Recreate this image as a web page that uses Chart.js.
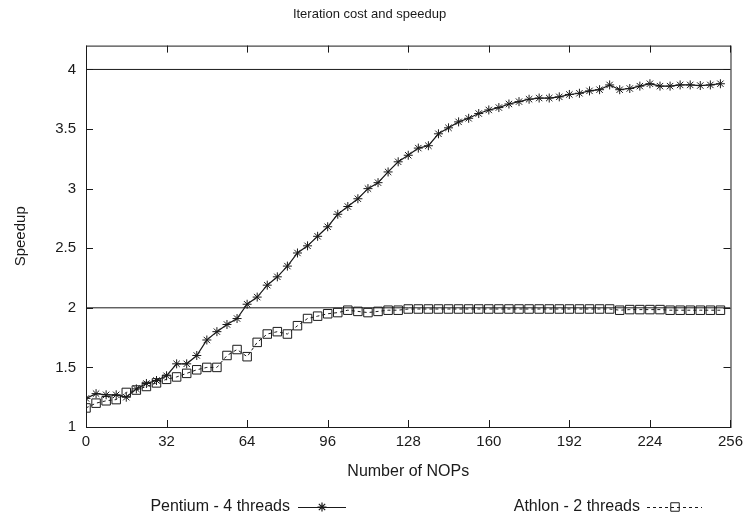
<!DOCTYPE html>
<html>
<head>
<meta charset="utf-8">
<script src="https://cdn.jsdelivr.net/npm/chart.js@4.4.1/dist/chart.umd.min.js"></script>
<style>
    html, body { margin: 0; padding: 0; background: #ffffff; }
    #wrap { width: 749px; height: 521px; }
</style>
</head>
<body>
<div id="wrap"><canvas id="speedupGraph" width="749" height="521"></canvas></div>
<script>
var nops = [];
for (var n = 0; n <= 252; n += 4) {
    nops.push(n);
}
var pentiumSpeedup = [
    1.24, 1.28, 1.27, 1.27, 1.25, 1.32, 1.365, 1.39, 1.43, 1.53, 1.53, 1.60,
    1.73, 1.80, 1.86, 1.91, 2.03, 2.09, 2.19, 2.26, 2.35, 2.46, 2.52,
    2.60, 2.68, 2.785, 2.85, 2.915, 3.00, 3.05, 3.14, 3.225, 3.28, 3.34,
    3.36, 3.46, 3.51, 3.56, 3.59, 3.63, 3.66, 3.68, 3.71, 3.73, 3.75,
    3.76, 3.76, 3.77, 3.79, 3.80, 3.82, 3.83, 3.87, 3.83, 3.84, 3.86, 3.88,
    3.86, 3.86, 3.87, 3.87, 3.865, 3.87, 3.88
];
var athlonSpeedup = [
    1.16, 1.20, 1.22, 1.23, 1.29, 1.31, 1.34, 1.37, 1.40, 1.42, 1.45, 1.48,
    1.50, 1.50, 1.60, 1.65, 1.59, 1.71, 1.78, 1.80, 1.78, 1.85, 1.91,
    1.93, 1.95, 1.96, 1.98, 1.97, 1.96, 1.97, 1.98, 1.98, 1.99, 1.99,
    1.99, 1.99, 1.99, 1.99, 1.99, 1.99, 1.99, 1.99, 1.99, 1.99, 1.99,
    1.99, 1.99, 1.99, 1.99, 1.99, 1.99, 1.99, 1.99, 1.98, 1.985, 1.985, 1.985,
    1.985, 1.98, 1.98, 1.98, 1.98, 1.98, 1.98
];
var limitLines = [4, 2];
var xTicks = [0, 32, 64, 96, 128, 160, 192, 224, 256];
var yTicks = [1, 1.5, 2, 2.5, 3, 3.5, 4];
var seriesNames = ["Pentium - 4 threads", "Athlon - 2 threads"];

var fontFamily = "'Liberation Sans', Arial, sans-serif";
var ink = "#1a1a1a";

function to_points(xs, ys) {
    var pts = [];
    for (var i = 0; i < ys.length; i++) {
        pts.push({ x: xs[i], y: ys[i] });
    }
    return pts;
}

function get_datasets() {
    var sets = [];
    for (var level of limitLines) {
        sets.push({
            label: "limit " + level,
            data: [{ x: 0, y: level }, { x: 256, y: level }],
            borderColor: ink,
            borderWidth: 1,
            pointRadius: 0,
        });
    }
    sets.push({
        label: seriesNames[0],
        data: to_points(nops, pentiumSpeedup),
        borderColor: ink,
        borderWidth: 1.2,
        pointStyle: "star",
        pointRadius: 4.5,
        pointBorderColor: ink,
        pointBorderWidth: 1,
    });
    sets.push({
        label: seriesNames[1],
        data: to_points(nops, athlonSpeedup),
        borderColor: ink,
        borderWidth: 1,
        borderDash: [3, 3],
        pointStyle: "rect",
        pointRadius: 6,
        pointBackgroundColor: "rgba(0,0,0,0)",
        pointBorderColor: ink,
        pointBorderWidth: 1,
    });
    return sets;
}

// gnuplot style frame, inward ticks and the legend below the x title
var framePlugin = {
    id: "frame",
    afterDatasetsDraw(chart) {
        var ctx = chart.ctx;
        var area = chart.chartArea;
        var xs = chart.scales.x;
        var ys = chart.scales.y;
        ctx.save();
        ctx.strokeStyle = ink;
        ctx.lineWidth = 1;
        ctx.strokeRect(area.left + 0.5, area.top + 0.5, area.right - area.left, area.bottom - area.top);
        ctx.beginPath();
        for (var t of xTicks) {
            var px = Math.round(xs.getPixelForValue(t)) + 0.5;
            ctx.moveTo(px, area.bottom);
            ctx.lineTo(px, area.bottom - 7);
            ctx.moveTo(px, area.top);
            ctx.lineTo(px, area.top + 7);
        }
        for (var v of yTicks) {
            var py = Math.round(ys.getPixelForValue(v)) + 0.5;
            ctx.moveTo(area.left, py);
            ctx.lineTo(area.left + 7, py);
            ctx.moveTo(area.right, py);
            ctx.lineTo(area.right - 7, py);
        }
        ctx.stroke();

        // legend
        var ly = 507;
        ctx.fillStyle = ink;
        ctx.font = "16px " + fontFamily;
        ctx.textAlign = "right";
        ctx.textBaseline = "middle";
        ctx.fillText(seriesNames[0], 290, ly);
        ctx.fillText(seriesNames[1], 640, ly);

        ctx.beginPath();
        ctx.lineWidth = 1.2;
        ctx.moveTo(298, ly + 0.5);
        ctx.lineTo(346, ly + 0.5);
        ctx.stroke();
        ctx.fillStyle = "rgba(0,0,0,0)";
        Chart.helpers.drawPoint(ctx, { pointStyle: "star", radius: 4.5, borderWidth: 1 }, 322, ly);

        ctx.beginPath();
        ctx.lineWidth = 1;
        ctx.setLineDash([3, 3]);
        ctx.moveTo(647, ly + 0.5);
        ctx.lineTo(702, ly + 0.5);
        ctx.stroke();
        ctx.setLineDash([]);
        ctx.fillStyle = "rgba(0,0,0,0)";
        Chart.helpers.drawPoint(ctx, { pointStyle: "rect", radius: 6, borderWidth: 1 }, 675, ly);
        ctx.restore();
    },
};

var speedupGraph = new Chart("speedupGraph", {
    type: "line",
    data: { datasets: get_datasets() },
    plugins: [framePlugin],
    options: {
        responsive: false,
        animation: false,
        layout: { padding: { left: 8, right: 18, top: 0, bottom: 36 } },
        plugins: {
            legend: { display: false },
            tooltip: { enabled: false },
            title: {
                display: true,
                text: "Iteration cost and speedup",
                color: ink,
                font: { family: fontFamily, size: 13, weight: "normal" },
                padding: { top: 7, bottom: 23 },
            },
        },
        scales: {
            x: {
                type: "linear",
                min: 0,
                max: 256,
                afterBuildTicks: (scale) => {
                    scale.ticks = xTicks.map((v) => ({ value: v }));
                },
                afterFit: (scale) => {
                    scale.height = 58;
                },
                ticks: {
                    color: ink,
                    padding: 6,
                    maxRotation: 0,
                    font: { family: fontFamily, size: 15 },
                },
                grid: { display: false, drawTicks: false },
                border: { display: false },
                title: {
                    display: true,
                    text: "Number of NOPs",
                    color: ink,
                    font: { family: fontFamily, size: 16 },
                    padding: { top: 0, bottom: 4 },
                },
            },
            y: {
                type: "linear",
                min: 1,
                max: 4.2,
                afterBuildTicks: (scale) => {
                    scale.ticks = yTicks.map((v) => ({ value: v }));
                },
                afterFit: (scale) => {
                    scale.width = 78;
                },
                ticks: {
                    color: ink,
                    padding: 10,
                    font: { family: fontFamily, size: 15 },
                    callback: (value) => String(value),
                },
                grid: { display: false, drawTicks: false },
                border: { display: false },
                title: {
                    display: true,
                    text: "Speedup",
                    color: ink,
                    font: { family: fontFamily, size: 15 },
                    padding: { top: 4, bottom: 0 },
                },
            },
        },
    },
});
</script>
</body>
</html>
